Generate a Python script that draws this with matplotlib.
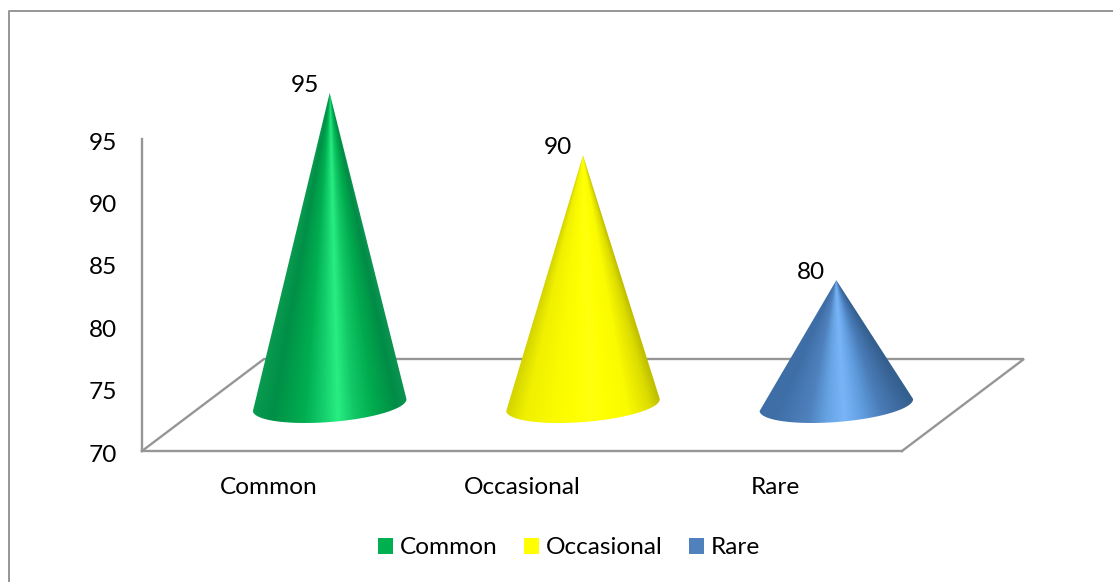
import matplotlib
matplotlib.use("Agg")
import matplotlib.pyplot as plt
import numpy as np
from matplotlib.colors import to_rgb
from matplotlib.patches import Patch, Polygon
from matplotlib.transforms import ScaledTranslation

plt.rcParams["font.family"] = ["Lato", "DejaVu Sans"]

categories = ["Common", "Occasional", "Rare"]
values = [95, 90, 80]
y_ticks = [70, 75, 80, 85, 90, 95]
legend_colors = ["#00b050", "#ffff00", "#4f81bd"]

# colour stops across each cone, left edge (0) to right edge (1)
shade_pos = [0.0, 0.14, 0.34, 0.45, 0.55, 0.65, 0.78, 0.93, 1.0]
shades = [
    ["#0a9c50", "#008f47", "#00ae50", "#12cc6a", "#28ee82", "#12c866", "#00ab4e", "#008c46", "#0a9450"],
    ["#d0d000", "#f0f000", "#fbfb00", "#ffff00", "#ffff10", "#ffff00", "#fbfb00", "#dcdc00", "#c0c000"],
    ["#3f6fa8", "#3f6ea6", "#4f81bd", "#66a4e4", "#7ab4f8", "#62a0e2", "#4a7cb8", "#3a6699", "#34608f"],
]

W, H = 1113, 582
GRAY = "#969696"
TEXT_SIZE = 17.6

# plot area in pixels
LEFT, RIGHT, BOTTOM, TOP = 142, 902, 451, 139
PX_X = (RIGHT - LEFT) / len(categories)
PX_Y = (BOTTOM - TOP) / (y_ticks[-1] - y_ticks[0])

# oblique depth of the floor, in pixels
DEPTH_X, DEPTH_Y = 122, 92

# cone base ellipse, in pixels
BASE_A, BASE_B, BASE_TILT = 77, 17, np.deg2rad(4.5)

fig = plt.figure(figsize=(W / 100, H / 100), dpi=100)
ax = fig.add_axes([LEFT / W, 1 - BOTTOM / H, (RIGHT - LEFT) / W, (BOTTOM - TOP) / H])
ax.set_xlim(0, len(categories))
ax.set_ylim(y_ticks[0], y_ticks[-1])

for side in ["top", "right"]:
    ax.spines[side].set_visible(False)
for side in ["left", "bottom"]:
    ax.spines[side].set_color(GRAY)
    ax.spines[side].set_linewidth(1.7)

ax.set_yticks(y_ticks)
ax.set_xticks(np.arange(len(categories)) + 0.5)
ax.set_xticklabels(categories)
ax.tick_params(axis="y", length=0, pad=18, labelsize=TEXT_SIZE)
ax.tick_params(axis="x", length=0, pad=18.5, labelsize=TEXT_SIZE)

# value labels sit slightly below their gridline height
nudge = ScaledTranslation(0, -2 / 100, fig.dpi_scale_trans)
for label in ax.get_yticklabels():
    label.set_transform(label.get_transform() + nudge)

# floor edges behind the cones
dx, dy = DEPTH_X / PX_X, DEPTH_Y / PX_Y
xs = [0, dx, len(categories) + dx, len(categories)]
ys = [y_ticks[0], y_ticks[0] + dy, y_ticks[0] + dy, y_ticks[0]]
ax.plot(xs, ys, color=GRAY, lw=1.7, clip_on=False, zorder=1, solid_joinstyle="miter")


def draw_cone(i, value, stops):
    cx = i + 0.5 + dx / 2
    base = y_ticks[0] + dy / 2
    apex = value + dy / 2
    half = BASE_A / PX_X

    # outline: apex plus the lower half of the tilted base ellipse
    t = np.linspace(np.pi, 0, 80)
    ex = BASE_A * np.cos(t) * np.cos(BASE_TILT) + BASE_B * np.sin(t) * np.sin(BASE_TILT)
    ey = BASE_A * np.cos(t) * np.sin(BASE_TILT) - BASE_B * np.sin(t) * np.cos(BASE_TILT)
    outline = np.column_stack([cx + ex / PX_X, base + ey / PX_Y])
    outline = np.vstack([[cx, apex], outline])

    # shading follows the cone's sides, so it converges at the apex
    x0, x1 = cx - half * 1.05, cx + half * 1.05
    y0, y1 = outline[:, 1].min() - 0.5, apex
    gx = np.linspace(x0, x1, 320)
    gy = np.linspace(y1, y0, 700)
    xx, yy = np.meshgrid(gx, gy)
    frac = np.maximum((apex - yy) / (apex - base), 1e-3)
    u = np.clip(((xx - cx) / (half * frac) + 1) / 2, 0, 1)
    rgb = np.array([to_rgb(c) for c in stops])
    img = np.dstack([np.interp(u, shade_pos, rgb[:, k]) for k in range(3)])

    im = ax.imshow(img, extent=[x0, x1, y0, y1], aspect="auto", zorder=3,
                   interpolation="bilinear")
    clip = Polygon(outline, closed=True, transform=ax.transData)
    im.set_clip_path(clip)
    im.set_clip_box(fig.bbox)

    ax.annotate(str(value), xy=(cx, apex), xytext=(-25, 8), textcoords="offset pixels",
                ha="center", va="center", fontsize=TEXT_SIZE, annotation_clip=False, zorder=4)


for i, v in enumerate(values):
    draw_cone(i, v, shades[i])

ax.set_xlim(0, len(categories))
ax.set_ylim(y_ticks[0], y_ticks[-1])

# chart frame, only the top and left edges fall inside the image
fig.add_artist(plt.Line2D([8.5 / W, 8.5 / W, 1], [0, 1 - 10.5 / H, 1 - 10.5 / H], color=GRAY, lw=1.4))

handles = [Patch(facecolor=c, edgecolor="none") for c in legend_colors]
fig.legend(handles, categories, loc="center", bbox_to_anchor=(569 / W, 1 - 548 / H), ncol=3,
           frameon=False, fontsize=TEXT_SIZE, handlelength=0.62, handleheight=0.62,
           handletextpad=0.26, columnspacing=1.1)

fig.savefig("out.png", dpi=100)
